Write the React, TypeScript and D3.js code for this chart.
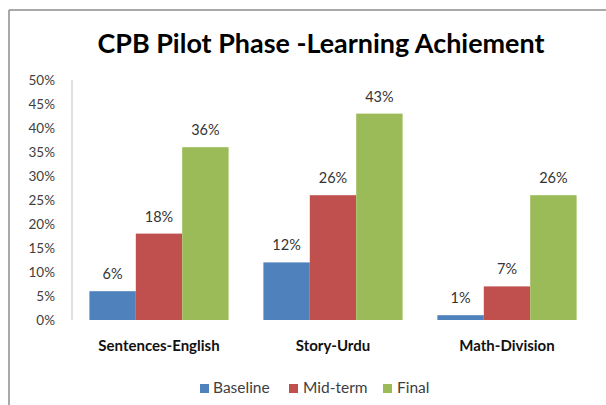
import React from "react";
import * as d3 from "d3";

const categories = ["Sentences-English", "Story-Urdu", "Math-Division"];
const seriesNames = ["Baseline", "Mid-term", "Final"];
const baseline = [6, 12, 1];
const midterm = [18, 26, 7];
const final = [36, 43, 26];
const yTicks = [0, 5, 10, 15, 20, 25, 30, 35, 40, 45, 50];
const colors = ["#4F81BD", "#C0504D", "#9BBB59"];

const W = 606;
const H = 405;
const m = { top: 80, left: 72, right: 12, bottom: 85 };
const font = "Lato, 'Open Sans', sans-serif";

const App = () => {
  const values = [baseline, midterm, final];

  const x = d3
    .scaleBand()
    .domain(categories)
    .range([m.left, W - m.right])
    .paddingInner(0.2)
    .paddingOuter(0.1);

  const xs = d3
    .scaleBand()
    .domain(seriesNames)
    .range([0, x.bandwidth()]);

  const y = d3
    .scaleLinear()
    .domain([0, 50])
    .range([H - m.bottom, m.top]);

  // legend positions (square x, text x)
  const legend = [
    { sq: 200, tx: 213 },
    { sq: 289, tx: 303 },
    { sq: 383, tx: 397 },
  ];

  return (
    <svg
      width={W}
      height={H}
      style={{ position: "absolute", left: 0, top: 0, background: "#fff" }}
    >
      {/* frame */}
      <line x1={9} x2={9} y1={10} y2={H} stroke="#8c8c8c" strokeWidth={1.5} />
      <line x1={9} x2={W} y1={10} y2={10} stroke="#8c8c8c" strokeWidth={1.5} />

      <text
        x={321}
        y={53}
        textAnchor="middle"
        fontFamily={font}
        fontWeight="bold"
        fontSize={27}
        textLength={447}
        lengthAdjust="spacingAndGlyphs"
        fill="#000"
      >
        CPB Pilot Phase -Learning Achiement
      </text>

      {/* y axis */}
      <line
        x1={m.left}
        x2={m.left}
        y1={y(50)}
        y2={y(0)}
        stroke="#c0c0c0"
        strokeWidth={1}
      />
      {yTicks.map((t) => (
        <text
          key={t}
          x={55}
          y={y(t)}
          dy="0.35em"
          textAnchor="end"
          fontFamily={font}
          fontSize={13.5}
          fill="#404040"
        >
          {t}%
        </text>
      ))}

      {/* bars */}
      {categories.map((c, ci) => (
        <g key={c} transform={`translate(${x(c)},0)`}>
          {seriesNames.map((s, si) => {
            const v = values[si][ci];
            const bx = xs(s) as number;
            return (
              <g key={s}>
                <rect
                  x={bx}
                  y={y(v)}
                  width={xs.bandwidth()}
                  height={y(0) - y(v)}
                  fill={colors[si]}
                />
                <text
                  x={bx + xs.bandwidth() / 2}
                  y={y(v) - 12}
                  textAnchor="middle"
                  fontFamily={font}
                  fontSize={14.5}
                  fill="#333"
                >
                  {v}%
                </text>
              </g>
            );
          })}
          <text
            x={x.bandwidth() / 2}
            y={351}
            textAnchor="middle"
            fontFamily={font}
            fontWeight="bold"
            fontSize={15}
            fill="#111"
          >
            {c}
          </text>
        </g>
      ))}

      {/* legend */}
      {seriesNames.map((s, i) => (
        <g key={s}>
          <rect
            x={legend[i].sq}
            y={384}
            width={9}
            height={9}
            fill={colors[i]}
          />
          <text
            x={legend[i].tx}
            y={393}
            fontFamily={font}
            fontSize={15.5}
            fill="#404040"
          >
            {s}
          </text>
        </g>
      ))}
    </svg>
  );
};

export default App;
